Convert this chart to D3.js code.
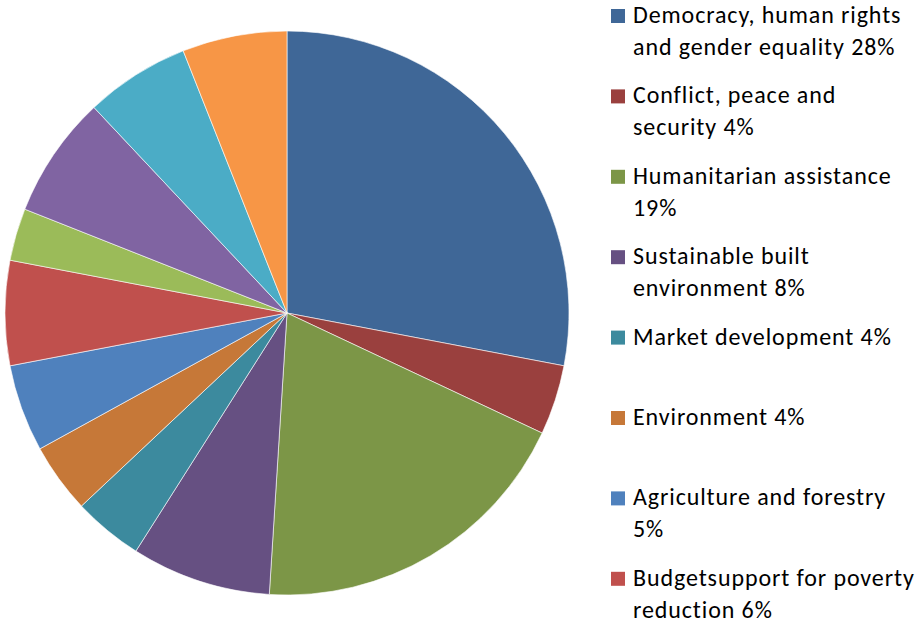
<!DOCTYPE html>
<html>
<head>
<meta charset="utf-8">
<script src="https://cdn.jsdelivr.net/npm/d3@7"></script>
<style>
  body { margin: 0; background: #fff; }
  svg { display: block; }
  .legendText { font-family: Carlito, Calibri, Lato, sans-serif; font-size: 24px; letter-spacing: 0.9px; fill: #000; }
</style>
</head>
<body>
<div id="chart"></div>
<script>
// categories in clockwise order from 12 o'clock
var categories = [
    "Democracy, human rights and gender equality",
    "Conflict, peace and security",
    "Humanitarian assistance",
    "Sustainable built environment",
    "Market development",
    "Environment",
    "Agriculture and forestry",
    "Budgetsupport for poverty reduction",
    "", "", "", ""
];

// shares in percent
var values = [28, 4, 19, 8, 4, 4, 5, 6, 3, 7, 6, 6];

// legend lines (as wrapped in the picture)
var legendLines = [
    ["Democracy, human rights", "and gender equality 28%"],
    ["Conflict, peace and", "security 4%"],
    ["Humanitarian assistance", "19%"],
    ["Sustainable built", "environment 8%"],
    ["Market development 4%"],
    ["Environment 4%"],
    ["Agriculture and forestry", "5%"],
    ["Budgetsupport for poverty", "reduction 6%"]
];

var colors = [
    "#3f6797", "#9a403e", "#7c9647", "#665082", "#3c8a9e", "#c67838",
    "#4f81bd", "#c0504d", "#9bbb59", "#8064a2", "#4bacc6", "#f79646"
];

var svgWidth = 922;
var svgHeight = 625;

var svg = d3.select("#chart")
    .append("svg")
    .attr("width", svgWidth)
    .attr("height", svgHeight);

// pie
var cx = 287, cy = 313, radius = 282;

var pie = d3.pie().sort(null).value(d => d);
var arc = d3.arc().innerRadius(0).outerRadius(radius);

var pieGroup = svg.append("g")
    .attr("transform", `translate(${cx}, ${cy})`);

pieGroup.selectAll("path")
    .data(pie(values))
    .enter()
    .append("path")
    .attr("d", arc)
    .attr("fill", (d, i) => colors[i])
    .attr("stroke", "#ffffff")
    .attr("stroke-width", 0.6);

// legend
var legendX = 611;
var legendTop = 23;
var legendStep = 80.4;
var lineHeight = 32;
var boxSize = 14;

var legend = svg.append("g");

var items = legend.selectAll("g")
    .data(legendLines)
    .enter()
    .append("g")
    .attr("transform", (d, i) => `translate(${legendX}, ${legendTop + i * legendStep})`);

items.append("rect")
    .attr("x", 0)
    .attr("y", -boxSize)
    .attr("width", boxSize)
    .attr("height", boxSize)
    .attr("fill", (d, i) => colors[i]);

items.each(function(lines) {
    var t = d3.select(this).append("text")
        .attr("class", "legendText")
        .attr("x", 22)
        .attr("y", 0);
    lines.forEach(function(line, j) {
        t.append("tspan")
            .attr("x", 22)
            .attr("y", j * lineHeight)
            .text(line);
    });
});
</script>
</body>
</html>
